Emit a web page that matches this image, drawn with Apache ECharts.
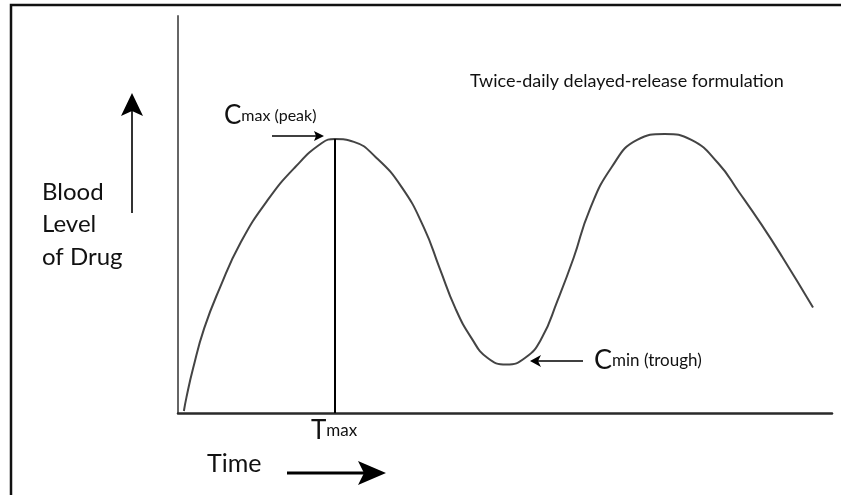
<!DOCTYPE html>
<html>
<head>
<meta charset="utf-8">
<script src="https://cdn.jsdelivr.net/npm/echarts@6/dist/echarts.min.js"></script>
<style>
  html, body { margin: 0; padding: 0; background: #fff; }
  #main { width: 841px; height: 495px; }
</style>
</head>
<body>
<div id="main"></div>
<script>
// curve (time, blood level), arbitrary units 0-100
var timePts = [0.9, 1.3, 2.3, 4.0, 6.4, 9.6, 13.7, 17.9, 22.0, 24.0, 26.9, 30.2, 34.2, 37.6, 40.0, 42.4, 44.9, 47.3, 50.2, 53.1, 55.6, 58.0, 60.5, 62.9, 66.3, 70.2, 74.4, 78.5, 82.6, 85.8, 89.2, 92.4, 97.1];
var levelPts = [0.5, 4.0, 11.2, 21.3, 31.5, 43.0, 53.6, 61.9, 68.0, 69.0, 68.3, 64.5, 56.9, 46.7, 36.5, 26.4, 18.8, 13.9, 12.2, 13.9, 18.8, 28.2, 39.1, 51.0, 61.9, 68.8, 70.3, 68.8, 62.9, 55.6, 47.5, 39.3, 26.6];
var tmax = 24.0;
var cmax = 69.0;

var curve = timePts.map(function (t, i) { return [t, levelPts[i]]; });

var font = 'Lato, "Open Sans", sans-serif';
var ink = '#111';

var myChart = echarts.init(document.getElementById('main'));

var option = {
    animation: false,
    backgroundColor: '#fff',
    grid: { left: 178, right: 9, top: 16, bottom: 82 },
    xAxis: {
        type: 'value', min: 0, max: 100,
        axisLine: { show: true, lineStyle: { color: '#2a2a2a', width: 2.5 } },
        axisTick: { show: false }, axisLabel: { show: false }, splitLine: { show: false }
    },
    yAxis: {
        type: 'value', min: 0, max: 100,
        axisLine: { show: true, lineStyle: { color: '#666', width: 2 } },
        axisTick: { show: false }, axisLabel: { show: false }, splitLine: { show: false }
    },
    series: [{
        type: 'line',
        data: curve,
        smooth: 0.5,
        showSymbol: false,
        lineStyle: { color: '#444', width: 2 },
        markLine: {
            silent: true,
            symbol: ['none', 'none'],
            label: { show: false },
            lineStyle: { color: '#000', width: 2, type: 'solid' },
            data: [[{ coord: [tmax, 0] }, { coord: [tmax, cmax] }]]
        }
    }],
    graphic: [
        // frame
        { type: 'rect', shape: { x: 11, y: 5, width: 840, height: 500 },
          style: { fill: 'none', stroke: ink, lineWidth: 2.5 } },
        // title
        { type: 'text', x: 470, y: 72,
          style: { text: 'Twice-daily delayed-release formulation', font: '18px ' + font, fill: ink } },
        // y label + arrow
        { type: 'text', x: 42, y: 176,
          style: { text: 'Blood\nLevel\nof Drug', font: '24px ' + font, lineHeight: 32.5, fill: ink } },
        { type: 'line', shape: { x1: 132, y1: 213, x2: 132, y2: 110 }, style: { stroke: '#333', lineWidth: 2 } },
        { type: 'polygon', shape: { points: [[132, 93], [121, 116], [132, 111], [143, 116]] }, style: { fill: '#000' } },
        // x label + arrow
        { type: 'text', x: 207, y: 451,
          style: { text: 'Time', font: '25px ' + font, fill: ink } },
        { type: 'line', shape: { x1: 287, y1: 473, x2: 365, y2: 473 }, style: { stroke: '#000', lineWidth: 3 } },
        { type: 'polygon', shape: { points: [[386, 473], [358, 461], [364, 473], [358, 485]] }, style: { fill: '#000' } },
        // Tmax
        { type: 'text', x: 311, y: 418,
          style: { text: '{b|T}{s|max}', rich: { b: { font: '26px ' + font, fill: ink }, s: { font: '17px ' + font, fill: ink } } } },
        // Cmax
        { type: 'text', x: 224, y: 103,
          style: { text: '{b|C}{s|max (peak)}', rich: { b: { font: '26px ' + font, fill: ink }, s: { font: '16px ' + font, fill: ink } } } },
        { type: 'line', shape: { x1: 272, y1: 136, x2: 318, y2: 136 }, style: { stroke: '#000', lineWidth: 1.5 } },
        { type: 'polygon', shape: { points: [[324, 136], [314, 131], [316, 136], [314, 141]] }, style: { fill: '#000' } },
        // Cmin
        { type: 'text', x: 594, y: 347,
          style: { text: '{b|C}{s|min (trough)}', rich: { b: { font: '27px ' + font, fill: ink }, s: { font: '17px ' + font, fill: ink } } } },
        { type: 'line', shape: { x1: 538, y1: 361, x2: 583, y2: 361 }, style: { stroke: '#000', lineWidth: 1.5 } },
        { type: 'polygon', shape: { points: [[530, 361], [541, 355], [538, 361], [541, 367]] }, style: { fill: '#000' } }
    ]
};

option && myChart.setOption(option);
</script>
</body>
</html>
